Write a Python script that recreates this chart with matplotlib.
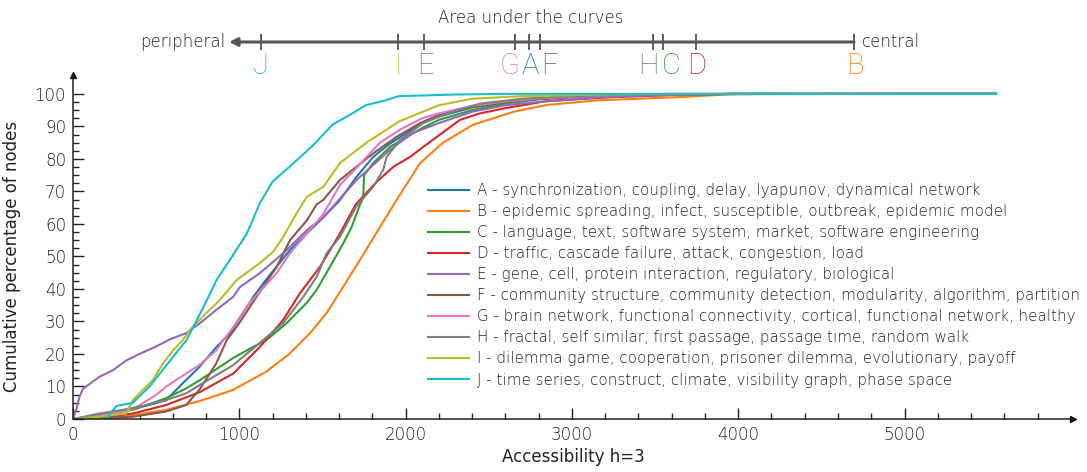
import numpy as np
import matplotlib
matplotlib.use("Agg")
import matplotlib.pyplot as plt

plt.rcParams['font.family'] = ['DejaVu Sans']
plt.rcParams['font.weight'] = 'light'

# ---- data ----
keys = ['A', 'B', 'C', 'D', 'E', 'F', 'G', 'H', 'I', 'J']
labels = [
    'A - synchronization, coupling, delay, lyapunov, dynamical network',
    'B - epidemic spreading, infect, susceptible, outbreak, epidemic model',
    'C - language, text, software system, market, software engineering',
    'D - traffic, cascade failure, attack, congestion, load',
    'E - gene, cell, protein interaction, regulatory, biological',
    'F - community structure, community detection, modularity, algorithm, partition',
    'G - brain network, functional connectivity, cortical, functional network, healthy',
    'H - fractal, self similar, first passage, passage time, random walk',
    'I - dilemma game, cooperation, prisoner dilemma, evolutionary, payoff',
    'J - time series, construct, climate, visibility graph, phase space',
]
colors = ['#1f77b4', '#ff7f0e', '#2ca02c', '#d62728', '#9467bd',
          '#8c564b', '#e377c2', '#7f7f7f', '#bcbd22', '#17becf']

a_x = [0, 160, 360, 460, 560, 660, 760, 860, 944, 1085, 1160, 1305, 1505, 1600, 1705, 1805, 1900, 2008, 2100, 2200, 2400, 2600, 2800, 3100, 3500, 4000, 5550]
a_y = [0, 1.2, 3.3, 4.3, 5.8, 11, 16, 22, 26.4, 37.6, 42.8, 52, 62, 67, 74.5, 80.6, 84.5, 88, 91, 93, 95.8, 97.4, 98.5, 99.3, 99.8, 100, 100]

b_x = [0, 160, 360, 560, 760, 960, 1160, 1300, 1425, 1525, 1625, 1726, 1846, 1946, 2087, 2225, 2405, 2650, 2850, 3150, 3650, 3950, 5550]
b_y = [0, 0.2, 1.2, 2.8, 5.5, 8.9, 14.5, 20, 26.4, 32.6, 40.7, 49, 59, 67.4, 78.7, 85, 90.5, 94.5, 96.6, 98, 99, 99.9, 100]

c_x = [0, 160, 360, 560, 680, 764, 964, 1084, 1164, 1285, 1405, 1465, 1545, 1625, 1675, 1726, 1745, 1750, 1805, 1906, 2008, 2100, 2200, 2400, 2600, 2800, 3100, 3500, 4000, 5550]
c_y = [0, 1.2, 2.8, 6.4, 9.4, 12, 18.8, 22.2, 24.3, 29.5, 35.7, 39.7, 46.8, 54, 59, 66, 68, 75, 78.7, 83.7, 86.8, 89.5, 92, 95, 97, 98.3, 99.3, 99.8, 100, 100]

d_x = [0, 160, 360, 560, 764, 964, 1124, 1264, 1365, 1485, 1605, 1700, 1827, 1925, 2026, 2167, 2327, 2447, 2610, 2850, 3250, 3700, 4200, 5550]
d_y = [0, 0.5, 1.7, 4.3, 8.3, 14, 22.2, 30.5, 38.7, 46.8, 57, 66, 73, 77.5, 80.6, 86, 92, 94, 95.7, 97.8, 99, 99.8, 100, 100]

e_x = [0, 20, 40, 60, 160, 240, 320, 400, 500, 583, 680, 764, 860, 964, 1004, 1124, 1264, 1305, 1405, 1505, 1705, 1906, 2045, 2200, 2400, 2600, 2800, 3200, 3600, 4000, 5550]
e_y = [0, 3, 7, 9.3, 13, 15, 18, 20, 22.3, 24.5, 26.4, 29.5, 33.5, 37.6, 40.6, 44.9, 51, 53, 58, 62, 73.5, 82.8, 88, 91, 94.5, 96.5, 97.5, 99, 99.7, 100, 100]

f_x = [0, 360, 560, 680, 760, 860, 925, 1000, 1104, 1225, 1305, 1405, 1465, 1505, 1605, 1805, 1946, 2087, 2200, 2400, 2600, 2800, 3100, 3500, 4000, 5550]
f_y = [0, 0.7, 2.3, 4.3, 9, 17, 24.3, 29.5, 37.6, 46.8, 55, 61, 66, 67.4, 73.5, 81.7, 86.8, 91, 93.5, 96, 97.5, 98.5, 99.3, 99.8, 100, 100]

g_x = [0, 160, 360, 500, 560, 680, 760, 860, 905, 960, 1060, 1225, 1305, 1405, 1505, 1605, 1700, 1846, 1966, 2100, 2200, 2400, 2600, 2800, 3100, 3500, 4000, 5550]
g_y = [0, 1, 3, 7.4, 10, 14, 16.6, 21, 24.3, 28, 35.6, 44.9, 51, 57, 63, 72, 77, 85, 89, 92.5, 94, 96.3, 97.7, 98.6, 99.3, 99.8, 100, 100]

h_x = [0, 160, 360, 560, 680, 764, 964, 1144, 1264, 1385, 1465, 1525, 1605, 1705, 1805, 1865, 1886, 1966, 2105, 2250, 2447, 2700, 3000, 3500, 4000, 5550]
h_y = [0, 1.7, 3.3, 5.8, 7.9, 10.5, 16.6, 24.3, 29.5, 37.6, 43.7, 51, 56, 65.5, 71.4, 76.6, 80.6, 85.8, 91, 94, 97, 98.5, 99.3, 99.8, 100, 100]

i_x = [0, 160, 320, 360, 420, 480, 540, 600, 660, 703, 800, 866, 986, 1124, 1205, 1264, 1345, 1405, 1505, 1605, 1765, 1886, 1960, 2080, 2200, 2400, 2700, 3200, 3600, 5550]
i_y = [0, 0.7, 1.7, 5.8, 9, 12, 17, 21, 24.3, 27.4, 32.5, 35.7, 42.8, 48, 51.5, 56, 63.3, 68.3, 71.4, 78.7, 85, 89, 91.5, 94, 96.5, 98.5, 99.3, 99.8, 100, 100]

j_x = [0, 200, 260, 360, 460, 600, 683, 785, 864, 944, 1045, 1124, 1200, 1300, 1440, 1560, 1680, 1760, 1880, 1960, 2300, 2600, 5550]
j_y = [0, 0, 4, 5, 10, 19, 24.3, 34.5, 42.8, 49, 57, 66.4, 73, 77.5, 84, 90.5, 94, 96.5, 98, 99.3, 99.8, 100, 100]

curves_x = [a_x, b_x, c_x, d_x, e_x, f_x, g_x, h_x, i_x, j_x]
curves_y = [a_y, b_y, c_y, d_y, e_y, f_y, g_y, h_y, i_y, j_y]

# top scale: area under the curves (position along the bar, left=peripheral)
auc_keys = ['J', 'I', 'E', 'G', 'A', 'F', 'H', 'C', 'D', 'B']
auc_vals = [261, 398, 424, 515, 529, 540, 653, 663, 696, 854]
auc_text = [261, 398, 425, 510, 530, 550, 648, 671, 697, 855]

# ---- figure ----
W, H = 1087, 472
fig = plt.figure(figsize=(W / 100, H / 100), dpi=100)
ax = fig.add_axes([73 / W, 1 - 419 / H, 1000 / W, 344 / H])

for k, xs, ys, c, lab in zip(keys, curves_x, curves_y, colors, labels):
    ax.plot(xs, ys, color=c, lw=1.5, label=lab)

ax.set_xlim(0, 6013)
ax.set_ylim(0, 105.8)
ax.spines['top'].set_visible(False)
ax.spines['right'].set_visible(False)
for s in ['left', 'bottom']:
    ax.spines[s].set_color('#222222')
    ax.spines[s].set_linewidth(1.1)
ax.plot(1, 0, '>', color='#111111', ms=5, transform=ax.transAxes, clip_on=False)
ax.plot(0, 1, '^', color='#111111', ms=5, transform=ax.transAxes, clip_on=False)

ax.set_xticks(np.arange(0, 6000, 1000))
ax.set_xticks(np.arange(0, 6000, 200), minor=True)
ax.set_yticks(np.arange(0, 101, 10))
ax.set_yticks(np.arange(0, 101, 2.5), minor=True)
ax.tick_params(which='both', direction='in', color='#222222', width=1.0,
               labelsize=12, labelcolor='#222222', pad=5)
ax.tick_params(which='major', length=8)
ax.tick_params(which='minor', length=4.5)

ax.set_xlabel('Accessibility h=3', fontsize=12, color='#222222', labelpad=3)
ax.set_ylabel('Cumulative percentage of nodes', fontsize=12, color='#222222')
ax.yaxis.set_label_coords(-0.052, 50 / 105.8)

leg = ax.legend(loc='upper left', bbox_to_anchor=(428 / W, 1 - 183 / H),
                bbox_transform=fig.transFigure, frameon=False, fontsize=10.9,
                handlelength=2.7, handletextpad=0.55, labelspacing=0.4,
                borderpad=0, borderaxespad=0)
for t in leg.get_texts():
    t.set_color('#222222')

# ---- top scale ----
tax = fig.add_axes([0, 1 - 80 / H, 1, 80 / H])
tax.set_xlim(0, W)
tax.set_ylim(80, 0)
tax.axis('off')
tax.annotate('', xy=(229, 42), xytext=(auc_vals[-1], 42),
             arrowprops=dict(arrowstyle='-|>', color='#555555', lw=2.2,
                             mutation_scale=12, shrinkA=0, shrinkB=0))
tax.vlines(auc_vals, 34, 50, color='#333333', lw=1.1)
for k, xp in zip(auc_keys, auc_text):
    tax.text(xp, 66, k, fontsize=21, color=colors[keys.index(k)],
             ha='center', va='center', family=['Roboto', 'DejaVu Sans'],
             fontweight='light')
tax.text(531, 18, 'Area under the curves', fontsize=12, color='#222222',
         ha='center', va='center')
tax.text(225, 42, 'peripheral', fontsize=12, color='#222222', ha='right', va='center')
tax.text(862, 42, 'central', fontsize=12, color='#222222', ha='left', va='center')

fig.savefig('out.png', dpi=100)
